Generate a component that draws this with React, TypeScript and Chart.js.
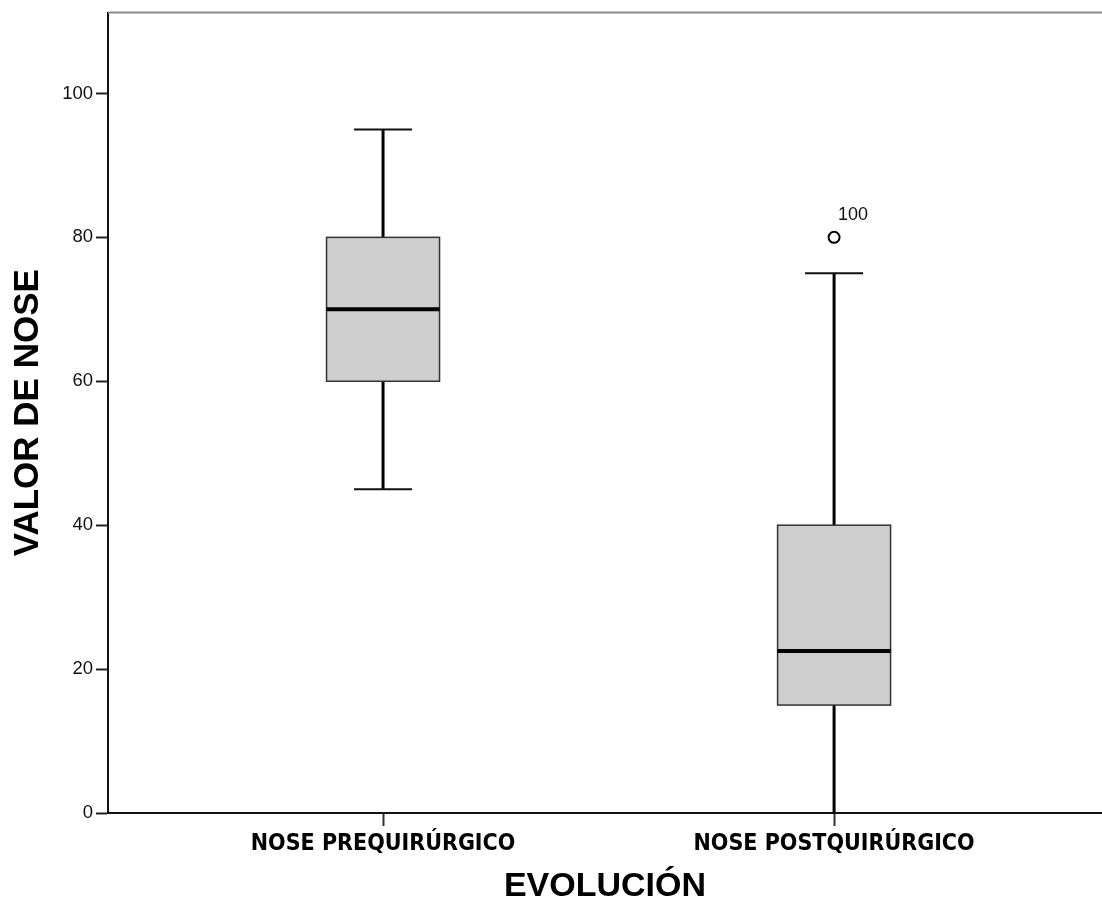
import React, { useEffect, useRef } from 'react';
import { Chart, registerables } from 'chart.js';

Chart.register(...registerables);

// ---- data ----
const categories = ['NOSE PREQUIRÚRGICO', 'NOSE POSTQUIRÚRGICO'];
const categoryPositions = [1, 2];
const whiskerLow = [45, 0];
const q1 = [60, 15];
const median = [70, 22.5];
const q3 = [80, 40];
const whiskerHigh = [95, 75];
const outlierCategory = [2];
const outlierValues = [80];
const outlierLabels = ['100'];
const yTicks = [0, 20, 40, 60, 80, 100];

const boxPlugin = {
  id: 'spssBoxes',
  beforeDatasetsDraw(chart: any) {
    const { ctx, chartArea } = chart;
    const x = chart.scales.x;
    const y = chart.scales.y;
    ctx.save();
    // top frame line
    ctx.strokeStyle = '#8a8a8a';
    ctx.lineWidth = 2;
    ctx.beginPath();
    ctx.moveTo(chartArea.left, chartArea.top);
    ctx.lineTo(chartArea.right, chartArea.top);
    ctx.stroke();

    const half = 56.5;
    const cap = 29;
    categoryPositions.forEach((c, i) => {
      const cx = x.getPixelForValue(c);
      const yLo = y.getPixelForValue(whiskerLow[i]);
      const yQ1 = y.getPixelForValue(q1[i]);
      const yMed = y.getPixelForValue(median[i]);
      const yQ3 = y.getPixelForValue(q3[i]);
      const yHi = y.getPixelForValue(whiskerHigh[i]);

      ctx.strokeStyle = '#000';
      ctx.lineWidth = 3;
      ctx.beginPath();
      ctx.moveTo(cx, yHi);
      ctx.lineTo(cx, yQ3);
      ctx.moveTo(cx, yQ1);
      ctx.lineTo(cx, yLo);
      ctx.stroke();

      ctx.lineWidth = 2;
      ctx.strokeStyle = '#111';
      ctx.beginPath();
      ctx.moveTo(cx - cap, yHi);
      ctx.lineTo(cx + cap, yHi);
      ctx.moveTo(cx - cap, yLo);
      ctx.lineTo(cx + cap, yLo);
      ctx.stroke();

      ctx.fillStyle = '#cecece';
      ctx.fillRect(cx - half, yQ3, half * 2, yQ1 - yQ3);
      ctx.strokeStyle = '#333';
      ctx.lineWidth = 1.5;
      ctx.strokeRect(cx - half, yQ3, half * 2, yQ1 - yQ3);

      ctx.strokeStyle = '#000';
      ctx.lineWidth = 4;
      ctx.beginPath();
      ctx.moveTo(cx - half, yMed);
      ctx.lineTo(cx + half, yMed);
      ctx.stroke();
    });
    ctx.restore();
  },
  afterDatasetsDraw(chart: any) {
    const { ctx } = chart;
    const x = chart.scales.x;
    const y = chart.scales.y;
    ctx.save();
    ctx.fillStyle = '#111';
    ctx.font = '18px "Liberation Sans", Arial, sans-serif';
    ctx.textAlign = 'left';
    ctx.textBaseline = 'middle';
    outlierCategory.forEach((c, i) => {
      const px = x.getPixelForValue(c);
      const py = y.getPixelForValue(outlierValues[i]);
      ctx.fillText(outlierLabels[i], px + 4, py - 22);
    });
    ctx.restore();
  },
};

export default function App() {
  const ref = useRef<HTMLCanvasElement>(null);
  useEffect(() => {
    document.body.style.margin = '0';
    const canvas = ref.current;
    if (!canvas) return;
    const chart = new Chart(canvas, {
      type: 'scatter',
      data: {
        datasets: [
          {
            label: 'outliers',
            data: outlierCategory.map((c, i) => ({ x: c, y: outlierValues[i] })),
            pointRadius: 5.5,
            pointHoverRadius: 5.5,
            pointBorderWidth: 2,
            pointBackgroundColor: '#ffffff',
            pointBorderColor: '#000000',
          },
        ],
      },
      options: {
        responsive: false,
        animation: false,
        layout: { autoPadding: false, padding: { top: 12.5, left: 0, right: 0, bottom: 0 } },
        plugins: {
          legend: { display: false },
          tooltip: { enabled: false },
          title: { display: false },
        },
        scales: {
          x: {
            type: 'linear',
            position: 'bottom',
            min: 0.3902,
            max: 2.594,
            afterBuildTicks: (s: any) => {
              s.ticks = categoryPositions.map((v) => ({ value: v }));
            },
            afterFit: (s: any) => {
              s.height = 92;
              s.paddingLeft = 0;
              s.paddingRight = 0;
            },
            grid: {
              drawOnChartArea: false,
              drawTicks: true,
              tickLength: 13,
              color: '#000',
              tickColor: '#333',
              tickWidth: 2,
            },
            border: { color: '#111', width: 2 },
            ticks: {
              autoSkip: false,
              maxRotation: 0,
              minRotation: 0,
              padding: 4,
              color: '#000',
              font: {
                family: '"Liberation Sans Narrow", "DejaVu Sans Condensed", sans-serif',
                weight: 'bold',
                size: 23,
              },
              callback: (v: any) => {
                const idx = categoryPositions.indexOf(Number(v));
                return idx >= 0 ? categories[idx] : '';
              },
            },
            title: {
              display: true,
              text: 'EVOLUCIÓN',
              color: '#000',
              font: { family: '"Liberation Sans", Arial, sans-serif', weight: 'bold', size: 34, lineHeight: 1 },
              padding: { top: 0, bottom: 1 },
            },
          },
          y: {
            type: 'linear',
            min: 0,
            max: 111.25,
            afterBuildTicks: (s: any) => {
              s.ticks = yTicks.map((v) => ({ value: v }));
            },
            afterFit: (s: any) => {
              s.width = 108;
              s.paddingTop = 0;
              s.paddingBottom = 0;
            },
            grid: {
              drawOnChartArea: false,
              drawTicks: true,
              tickLength: 12,
              color: '#000',
              tickColor: '#222',
              tickWidth: 2,
            },
            border: { color: '#111', width: 2 },
            ticks: {
              padding: 3,
              color: '#111',
              font: { family: '"Liberation Sans", Arial, sans-serif', size: 18.5 },
            },
            title: {
              display: true,
              text: 'VALOR DE NOSE',
              color: '#000',
              font: { family: '"Liberation Sans", Arial, sans-serif', weight: 'bold', size: 35, lineHeight: 1 },
              padding: { top: 11, bottom: 0 },
            },
          },
        },
      },
      plugins: [boxPlugin],
    });
    return () => chart.destroy();
  }, []);
  return (
    <div style={{ width: 1102, height: 905 }}>
      <canvas ref={ref} width={1102} height={905} style={{ display: 'block' }} />
    </div>
  );
}
